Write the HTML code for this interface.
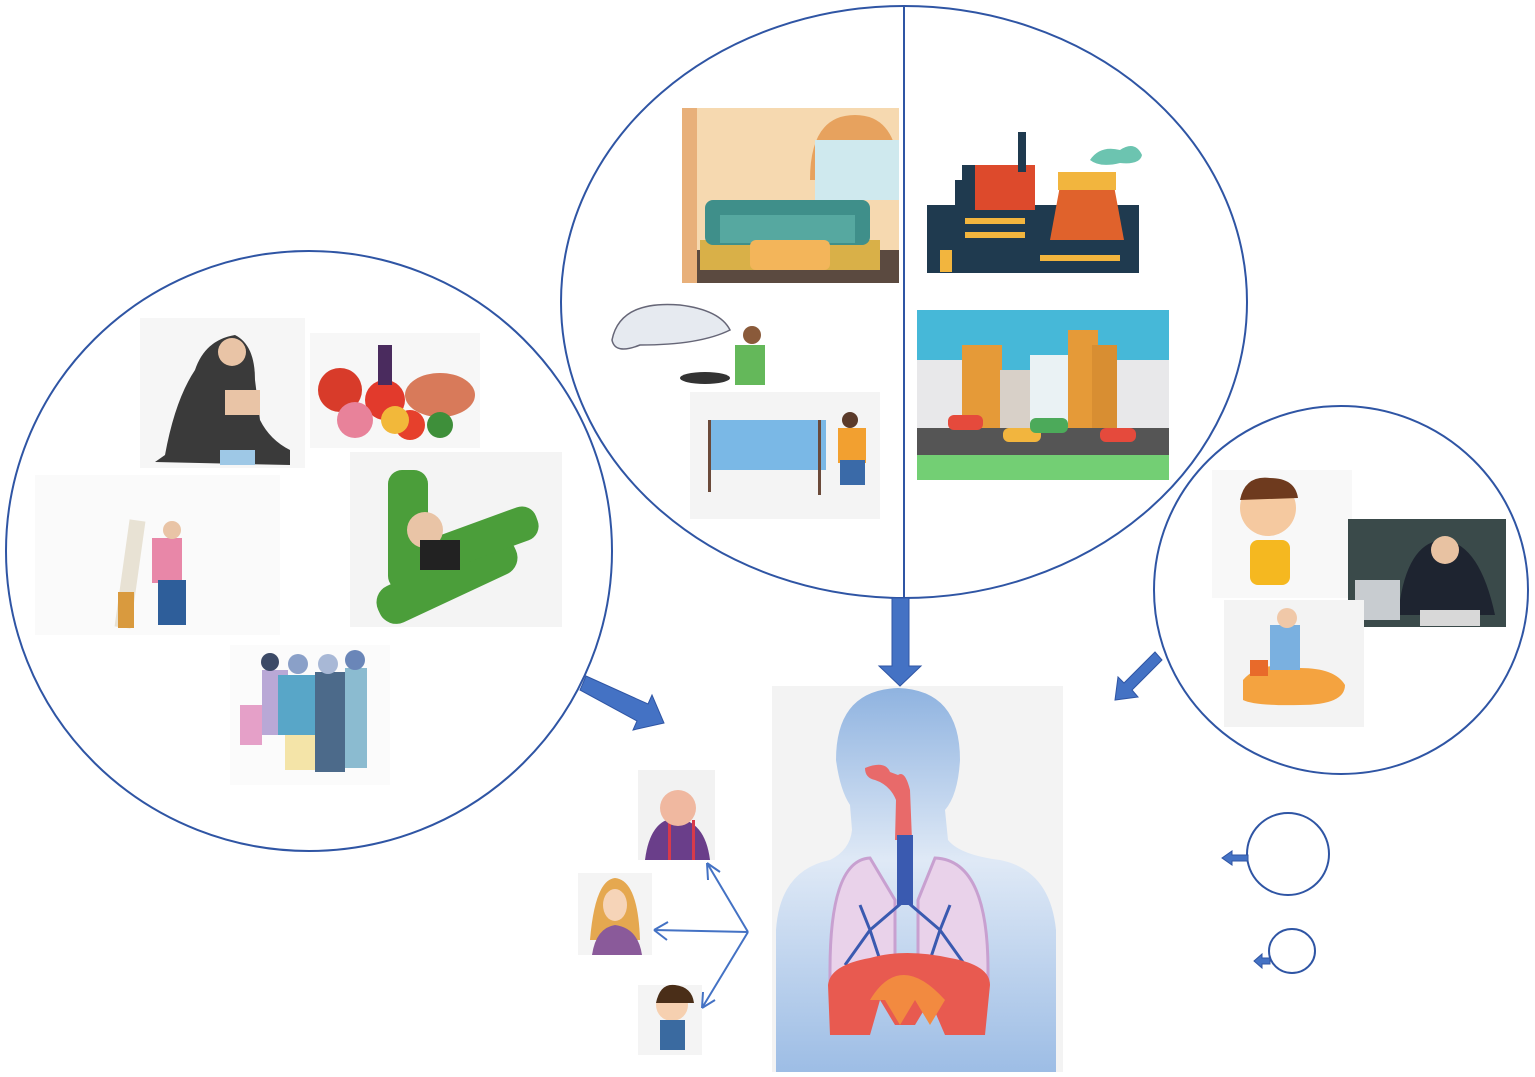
<!DOCTYPE html>
<html><head><meta charset="utf-8"><style>html,body{margin:0;padding:0;background:#fff;width:1535px;height:1077px;overflow:hidden}</style></head>
<body>
<svg width="1535" height="1077" viewBox="0 0 1535 1077" xmlns="http://www.w3.org/2000/svg">
<defs>
<linearGradient id="bg" x1="0" y1="0" x2="0" y2="1"><stop offset="0" stop-color="#8fb3e0"/><stop offset="0.45" stop-color="#dfe9f6"/><stop offset="1" stop-color="#9dbde5"/></linearGradient>
</defs>
<!-- left circle images -->
<rect x="140" y="318" width="165" height="150" fill="#f6f6f6"/>
<path d="M165 455 Q175 400 195 370 Q205 340 235 335 Q255 345 255 380 L260 420 Q270 440 290 450 L290 465 L155 462Z" fill="#3a3a3a"/>
<circle cx="232" cy="352" r="14" fill="#e9c4a6"/>
<rect x="225" y="390" width="35" height="25" fill="#e9c4a6"/>
<rect x="220" y="450" width="35" height="15" fill="#9ec8e6"/>
<rect x="310" y="333" width="170" height="115" fill="#f7f7f7"/>
<circle cx="340" cy="390" r="22" fill="#d83b2a"/><circle cx="385" cy="400" r="20" fill="#e23a2c"/>
<circle cx="355" cy="420" r="18" fill="#e8829a"/><ellipse cx="440" cy="395" rx="35" ry="22" fill="#d87a5a"/>
<circle cx="410" cy="425" r="15" fill="#e6402c"/><rect x="378" y="345" width="14" height="40" fill="#4a2b5e"/>
<circle cx="395" cy="420" r="14" fill="#f2b83a"/><circle cx="440" cy="425" r="13" fill="#3e8f3a"/>
<rect x="350" y="452" width="212" height="175" fill="#f4f4f4"/>
<rect x="372" y="560" width="150" height="40" rx="18" fill="#4b9e3a" transform="rotate(-25 447 580)"/>
<rect x="388" y="470" width="40" height="120" rx="14" fill="#4b9e3a"/>
<rect x="430" y="520" width="110" height="35" rx="15" fill="#4b9e3a" transform="rotate(-20 485 537)"/>
<circle cx="425" cy="530" r="18" fill="#e9c4a6"/><rect x="420" y="540" width="40" height="30" fill="#222"/>
<rect x="35" y="475" width="245" height="160" fill="#fafafa"/>
<rect x="122" y="520" width="16" height="108" fill="#e8e2d4" transform="rotate(8 130 574)"/>
<rect x="118" y="592" width="16" height="36" fill="#d99a3e"/>
<rect x="152" y="538" width="30" height="45" fill="#e887a8"/><rect x="158" y="580" width="28" height="45" fill="#2e5e9a"/>
<circle cx="172" cy="530" r="9" fill="#e9c4a6"/>
<rect x="230" y="645" width="160" height="140" fill="#fbfbfb"/>
<rect x="262" y="670" width="26" height="65" fill="#b9a8d6"/><rect x="278" y="675" width="40" height="60" fill="#58a6c8"/>
<rect x="285" y="735" width="30" height="35" fill="#f4e4a8"/><rect x="315" y="672" width="30" height="100" fill="#4c6a8a"/>
<rect x="345" y="668" width="22" height="100" fill="#8bbbd0"/><rect x="240" y="705" width="22" height="40" fill="#e5a0c8"/>
<circle cx="270" cy="662" r="9" fill="#3c4a66"/><circle cx="298" cy="664" r="10" fill="#8aa0c8"/><circle cx="328" cy="664" r="10" fill="#a8b8d6"/><circle cx="355" cy="660" r="10" fill="#6a86b8"/>
<!-- top circle images -->
<rect x="682" y="108" width="217" height="175" fill="#f6d9b0"/>
<path d="M810 180 Q810 115 855 115 Q899 115 899 180Z" fill="#e7a25e"/>
<rect x="815" y="140" width="84" height="60" fill="#cfe9ee"/>
<rect x="682" y="250" width="217" height="33" fill="#5b4a40"/><rect x="700" y="240" width="180" height="30" fill="#d9b048"/>
<rect x="705" y="200" width="165" height="45" rx="8" fill="#3f8f8a"/><rect x="720" y="215" width="135" height="28" fill="#56a8a0"/>
<rect x="750" y="240" width="80" height="30" rx="6" fill="#f3b55a"/>
<rect x="682" y="108" width="15" height="175" fill="#e8b07a"/>
<rect x="927" y="130" width="215" height="145" fill="#fff"/>
<rect x="927" y="205" width="212" height="68" fill="#1f3a4f"/>
<rect x="962" y="165" width="68" height="108" fill="#1f3a4f"/><rect x="975" y="165" width="60" height="45" fill="#dd4a2c"/>
<rect x="1018" y="132" width="8" height="40" fill="#1f3a4f"/><rect x="955" y="180" width="8" height="30" fill="#1f3a4f"/>
<path d="M1050 240 L1062 175 L1112 175 L1124 240Z" fill="#e0622c"/><rect x="1058" y="172" width="58" height="18" fill="#f2b53e"/>
<path d="M1090 160 Q1100 145 1120 150 Q1135 140 1142 155 Q1140 165 1120 163 Q1100 168 1090 160Z" fill="#6cc4b0"/>
<rect x="940" y="250" width="12" height="22" fill="#f2b53e"/>
<g fill="#f2b53e"><rect x="965" y="218" width="60" height="6"/><rect x="965" y="232" width="60" height="6"/><rect x="1040" y="255" width="80" height="6"/></g>
<rect x="917" y="310" width="252" height="170" fill="#46b8d8"/>
<rect x="917" y="360" width="50" height="70" fill="#e8e8ea"/><rect x="962" y="345" width="40" height="85" fill="#e59a38"/>
<rect x="1000" y="370" width="30" height="60" fill="#d8d0c8"/><rect x="1030" y="355" width="60" height="75" fill="#eaf2f4"/>
<rect x="1068" y="330" width="30" height="100" fill="#e59a38"/><rect x="1092" y="345" width="25" height="85" fill="#d88e32"/>
<rect x="1117" y="360" width="52" height="70" fill="#e8e8ea"/>
<rect x="917" y="428" width="252" height="28" fill="#555"/><rect x="917" y="455" width="252" height="25" fill="#73cf74"/>
<rect x="948" y="415" width="35" height="15" rx="6" fill="#e54a3c"/><rect x="1003" y="428" width="38" height="14" rx="6" fill="#f2b53e"/>
<rect x="1030" y="418" width="38" height="15" rx="6" fill="#4caa5a"/><rect x="1100" y="428" width="36" height="14" rx="6" fill="#e54a3c"/>
<rect x="605" y="300" width="175" height="90" fill="#fff"/>
<path d="M612 340 Q620 300 680 305 Q720 310 730 330 Q700 345 640 345 Q615 355 612 340Z" fill="#e6eaf0" stroke="#667" stroke-width="1.5"/>
<rect x="735" y="345" width="30" height="40" fill="#64b85a"/><circle cx="752" cy="335" r="9" fill="#8a5a3a"/>
<ellipse cx="705" cy="378" rx="25" ry="6" fill="#333"/>
<rect x="690" y="392" width="190" height="127" fill="#f4f4f4"/>
<rect x="708" y="420" width="118" height="50" fill="#7ab8e6"/>
<rect x="708" y="420" width="3" height="72" fill="#6b4a3a"/><rect x="818" y="420" width="3" height="75" fill="#6b4a3a"/>
<rect x="838" y="428" width="28" height="35" fill="#f2a030"/><rect x="840" y="460" width="25" height="25" fill="#3a6aa8"/><circle cx="850" cy="420" r="8" fill="#5a3a2a"/>
<!-- right circle images -->
<rect x="1212" y="470" width="140" height="128" fill="#f8f8f8"/>
<circle cx="1268" cy="508" r="28" fill="#f5c9a0"/><path d="M1240 500 Q1245 475 1270 478 Q1295 478 1298 498 Z" fill="#6e3a1e"/>
<rect x="1250" y="540" width="40" height="45" rx="8" fill="#f5b820"/>
<rect x="1348" y="519" width="158" height="108" fill="#3a4a4a"/>
<rect x="1355" y="580" width="45" height="40" fill="#c8ccd0"/><path d="M1400 600 Q1410 540 1445 540 Q1480 545 1495 615 L1400 615Z" fill="#1e2430"/>
<circle cx="1445" cy="550" r="14" fill="#e8c2a2"/><rect x="1420" y="610" width="60" height="16" fill="#d8d8d8"/>
<rect x="1224" y="600" width="140" height="127" fill="#f3f3f3"/>
<path d="M1243 680 Q1260 660 1300 668 Q1335 668 1345 685 Q1345 705 1300 705 Q1255 706 1243 700Z" fill="#f4a340"/>
<rect x="1270" y="625" width="30" height="45" fill="#7ab0e0"/><circle cx="1287" cy="618" r="10" fill="#f0c8a8"/>
<rect x="1250" y="660" width="18" height="16" fill="#e86a2a"/>
<!-- small people -->
<rect x="638" y="770" width="77" height="90" fill="#f2f2f2"/>
<path d="M645 860 Q650 820 675 818 Q705 820 710 860Z" fill="#6a3e8a"/><rect x="668" y="820" width="3" height="40" fill="#d83a4a"/><rect x="692" y="820" width="3" height="40" fill="#d83a4a"/>
<circle cx="678" cy="808" r="18" fill="#f0b8a0"/>
<rect x="578" y="873" width="74" height="82" fill="#f4f4f4"/>
<path d="M590 940 Q595 880 615 878 Q638 880 640 940Z" fill="#e5a850"/><ellipse cx="615" cy="905" rx="12" ry="16" fill="#f6d4b8"/>
<path d="M592 955 Q596 928 615 925 Q638 928 642 955Z" fill="#8a5a9a"/>
<rect x="638" y="985" width="64" height="70" fill="#f4f4f4"/>
<circle cx="672" cy="1005" r="16" fill="#f6d0b0"/><path d="M656 1003 Q660 983 675 985 Q692 987 694 1003Z" fill="#4a2e18"/>
<rect x="660" y="1020" width="25" height="30" fill="#3a6aa0"/>
<!-- body -->
<rect x="772" y="686" width="291" height="386" fill="#f3f3f3"/>
<path d="M836 760 Q836 690 898 688 Q960 690 960 760 Q958 795 945 810 L948 840 Q960 855 1000 860 Q1050 870 1056 930 L1056 1072 L776 1072 L776 930 Q780 870 830 860 Q850 850 852 830 L850 805 Q840 790 836 760Z" fill="url(#bg)"/>
<path d="M865 768 Q885 760 890 772 L898 775 Q905 770 910 790 L912 840 L895 840 L896 800 Q890 785 875 780 Q865 778 865 768Z" fill="#e86a6a"/>
<rect x="897" y="835" width="16" height="70" fill="#3a5ab0"/>
<path d="M870 858 Q830 860 830 970 L830 980 Q870 980 895 965 L895 900Z" fill="#e9d2ea" stroke="#c8a0d0" stroke-width="3"/>
<path d="M935 858 Q988 860 988 970 L988 980 Q950 980 918 965 L918 900Z" fill="#e9d2ea" stroke="#c8a0d0" stroke-width="3"/>
<g stroke="#3a5ab0" stroke-width="3" fill="none"><path d="M905 900 L870 930 L845 965 M870 930 L880 960 M905 900 L940 930 L965 965 M940 930 L930 960 M860 905 L870 930 M950 905 L940 930"/></g>
<path d="M828 985 Q830 965 870 958 Q905 948 950 958 Q990 965 990 985 L985 1035 L945 1035 L930 1000 L915 1025 L895 1025 L880 1000 L870 1035 L830 1035Z" fill="#e85a50"/>
<path d="M870 1000 Q900 950 945 1000 L930 1025 L915 1000 L900 1025 L885 1000Z" fill="#f28a40"/>
<!-- circles -->
<g fill="none" stroke="#2f55a4" stroke-width="2">
<ellipse cx="309" cy="551" rx="303" ry="300"/>
<ellipse cx="904" cy="302" rx="343" ry="296"/>
<line x1="904" y1="6" x2="904" y2="598"/>
<ellipse cx="1341" cy="590" rx="187" ry="184"/>
<circle cx="1288" cy="854" r="41"/>
<ellipse cx="1292" cy="951" rx="23" ry="22"/>
</g>
<!-- thick arrows -->
<g fill="#4472c4" stroke="#2f55a4" stroke-width="1">
<path d="M892 598 L909 598 L909 666 L921 666 L900 686 L879 666 L892 666Z"/>
<polygon points="586,676 648,704 652,695 664,723 633,730 637,721 580,690"/>
<polygon points="1155,652 1162,660 1132,690 1138,697 1115,700 1118,677 1124,683"/>
<polygon points="1248,855 1232,855 1232,851 1222,858 1232,865 1232,861 1248,861"/>
<polygon points="1270,958 1262,958 1262,954 1254,961 1262,968 1262,964 1270,964"/>
</g>
<!-- thin arrows -->
<g stroke="#4472c4" stroke-width="2" fill="none">
<path d="M748 932 L707 863 M707 863 L708 880 M707 863 L720 872"/>
<path d="M748 932 L654 930 M654 930 L668 922 M654 930 L667 940"/>
<path d="M748 932 L702 1008 M702 1008 L703 992 M702 1008 L715 1000"/>
</g>
</svg>
</body></html>
